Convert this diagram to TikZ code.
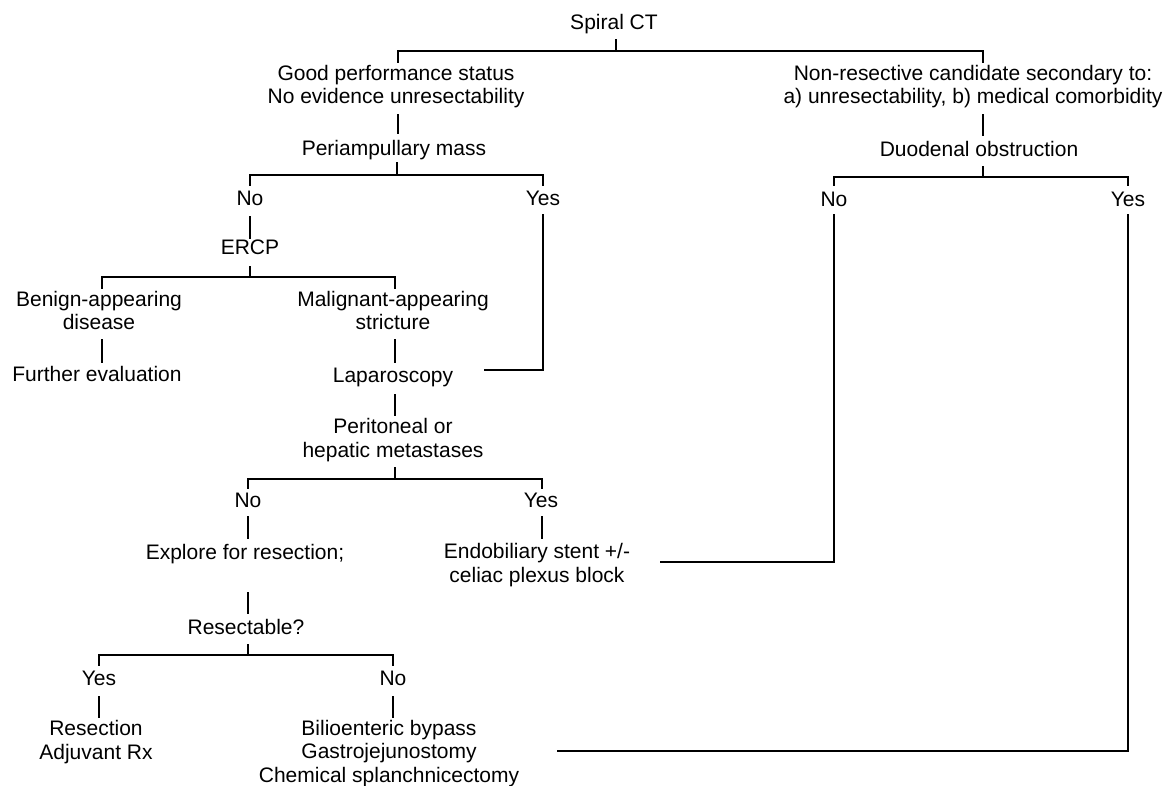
\documentclass[tikz,border=0pt]{standalone}
\usepackage{fontspec}
\setmainfont{Liberation Sans}
\usetikzlibrary{calc}
\begin{document}
\begin{tikzpicture}[x=1pt,y=-1pt,
  lbl/.style={anchor=base,inner sep=0pt,align=center,font=\fontsize{21}{23.5}\selectfont},
  br/.style={line width=1.5pt,line cap=rect},
  lng/.style={line width=2.2pt,line cap=rect,line join=miter}]
\useasboundingbox[fill=white] (0,0) rectangle (1171,786);
% nodes (anchor = baseline of last line)
\node[lbl] (spiral) at (614,30) {Spiral CT};
\node[lbl] (good) at (396,104) {Good performance status\\No evidence unresectability};
\node[lbl] (nonres) at (973,104) {Non-resective candidate secondary to:\\a) unresectability, b) medical comorbidity};
\node[lbl] (peri) at (394,156) {Periampullary mass};
\node[lbl] (duo) at (979,157) {Duodenal obstruction};
\node[lbl] (no1) at (250,206) {No};
\node[lbl] (yes1) at (543,206) {Yes};
\node[lbl] (no2) at (834,207) {No};
\node[lbl] (yes2) at (1128,207) {Yes};
\node[lbl] (ercp) at (250,255) {ERCP};
\node[lbl] (benign) at (99,330) {Benign-appearing\\disease};
\node[lbl] (malig) at (393,330) {Malignant-appearing\\stricture};
\node[lbl] (further) at (97,382) {Further evaluation};
\node[lbl] (lap) at (393,383) {Laparoscopy};
\node[lbl] (perit) at (393,457) {Peritoneal or\\hepatic metastases};
\node[lbl] (no3) at (248,507) {No};
\node[lbl] (yes3) at (541,507) {Yes};
\node[lbl] (explore) at (245,559) {Explore for resection;};
\node[lbl] (endo) at (537,582) {Endobiliary stent +/-\\celiac plexus block};
\node[lbl] (resect) at (246,634) {Resectable?};
\node[lbl] (yes4) at (99,685) {Yes};
\node[lbl] (no4) at (393,685) {No};
\node[lbl] (resection) at (96,759) {Resection\\Adjuvant Rx};
\node[lbl] (bypass) at (389,782) {Bilioenteric bypass\\Gastrojejunostomy\\Chemical splanchnicectomy};
% connectors
\draw[br] ($(spiral.base)+(2,10)$) -- ($(spiral.base)+(2,21)$);
\draw[br] ($(good.base)+(2,-42)$) |- ($(nonres.base)+(10,-53)$) -- ($(nonres.base)+(10,-42)$);
\draw[br] ($(good.base)+(2,11)$) -- ($(peri.base)+(4,-23)$);
\draw[br] ($(peri.base)+(3,7)$) -- ($(peri.base)+(3,19)$);
\draw[br] ($(no1.base)+(0,-21)$) |- ($(yes1.base)+(0,-31)$) -- ($(yes1.base)+(0,-21)$);
\draw[br] ($(nonres.base)+(10,11)$) -- ($(duo.base)+(4,-22)$);
\draw[br] ($(duo.base)+(4,10)$) -- ($(duo.base)+(4,20)$);
\draw[br] ($(no2.base)+(0,-22)$) |- ($(yes2.base)+(0,-30)$) -- ($(yes2.base)+(0,-22)$);
\draw[br] ($(no1.base)+(0,11)$) -- ($(ercp.base)+(0,-17)$);
\draw[br] ($(ercp.base)+(0,12)$) -- ($(ercp.base)+(0,22)$);
\draw[br] ($(benign.base)+(3,-42)$) |- ($(malig.base)+(2,-53)$) -- ($(malig.base)+(2,-42)$);
\draw[br] ($(benign.base)+(3,10)$) -- ($(further.base)+(5,-20)$);
\draw[br] ($(malig.base)+(2,10)$) -- ($(lap.base)+(2,-21)$);
\draw[lng] ($(yes1.base)+(0,9)$) |- ($(lap.base)+(92,-13)$);
\draw[br] ($(lap.base)+(2,12)$) -- ($(perit.base)+(2,-42)$);
\draw[br] ($(perit.base)+(2,11)$) -- ($(perit.base)+(2,22)$);
\draw[br] ($(no3.base)+(0,-19)$) |- ($(yes3.base)+(1,-28)$) -- ($(yes3.base)+(1,-19)$);
\draw[br] ($(no3.base)+(0,10)$) -- ($(explore.base)+(3,-21)$);
\draw[br] ($(yes3.base)+(1,10)$) -- ($(endo.base)+(5,-44)$);
\draw[lng] ($(endo.base)+(124,-20)$) -| ($(no2.base)+(0,8)$);
\draw[br] ($(explore.base)+(3,34)$) -- ($(resect.base)+(2,-21)$);
\draw[br] ($(resect.base)+(2,11)$) -- ($(resect.base)+(2,21)$);
\draw[br] ($(yes4.base)+(0,-20)$) |- ($(no4.base)+(0,-30)$) -- ($(no4.base)+(0,-20)$);
\draw[br] ($(yes4.base)+(0,12)$) -- ($(resection.base)+(3,-42)$);
\draw[br] ($(no4.base)+(0,12)$) -- ($(bypass.base)+(4,-65)$);
\draw[lng] ($(bypass.base)+(169,-31)$) -| ($(yes2.base)+(0,8)$);
\end{tikzpicture}
\end{document}
